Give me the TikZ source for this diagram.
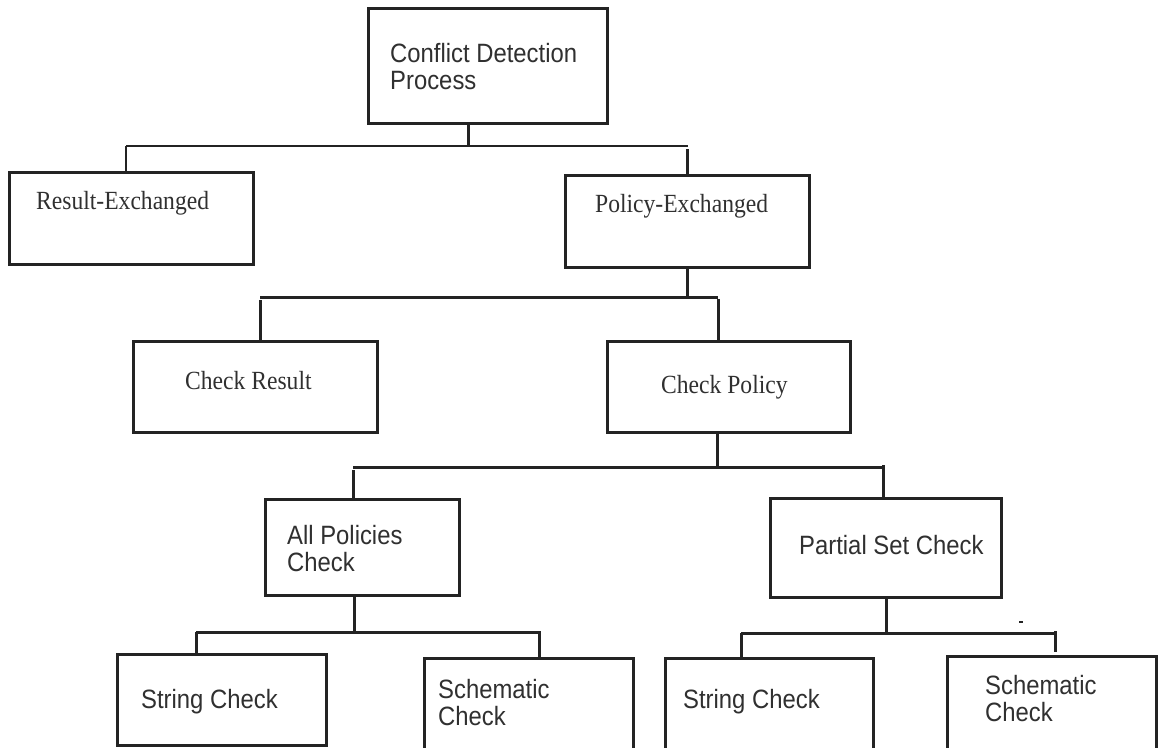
\documentclass[tikz,border=0pt]{standalone}
\usepackage{fontspec}
\newfontfamily\sansf[FakeStretch=0.9]{Liberation Sans}
\newfontfamily\serf[FakeStretch=0.9]{Liberation Serif}
\definecolor{ink}{HTML}{232323}
\definecolor{txt}{HTML}{303030}
\tikzset{
  box/.style={draw=ink, line width=3pt, rectangle, inner sep=0pt},
  sanslbl/.style={anchor=base west, inner sep=0pt, text=txt, font=\sansf\fontsize{26.5}{27}\selectfont},
  seriflbl/.style={anchor=base west, inner sep=0pt, text=txt, font=\serf\fontsize{26.2}{27}\selectfont},
  wire/.style={draw=ink, line width=3pt},
  thinwire/.style={draw=ink, line width=1.5pt}
}
\newcommand{\twolines}[2]{\begin{tabular}[t]{@{}l@{}}#1\\#2\end{tabular}}
\begin{document}
\begin{tikzpicture}[x=1pt,y=-1pt]
\fill[white] (0,0) rectangle (1158,747);
\useasboundingbox (0,0) rectangle (1158,747);

% boxes
\node[box, minimum width=239pt, minimum height=115pt] (top) at (487.5,65.5) {};
\node[box, minimum width=244pt, minimum height=92pt] (res) at (131,218) {};
\node[box, minimum width=244pt, minimum height=92pt] (pol) at (687,221) {};
\node[box, minimum width=244pt, minimum height=91pt] (chkres) at (255,386.5) {};
\node[box, minimum width=243pt, minimum height=91pt] (chkpol) at (728.5,386.5) {};
\node[box, minimum width=194pt, minimum height=96pt] (allpol) at (362,547) {};
\node[box, minimum width=231pt, minimum height=99pt] (partial) at (885.5,547.5) {};
\node[box, minimum width=209pt, minimum height=91pt] (str1) at (221.5,699.5) {};
\node[box, minimum width=209pt, minimum height=104pt] (sch1) at (528.5,710) {};
\node[box, minimum width=208pt, minimum height=104pt] (str2) at (769,710) {};
\node[box, minimum width=209pt, minimum height=106pt] (sch2) at (1051.5,709) {};

% texts
\node[sanslbl] (ttop) at (390,62) {\twolines{Conflict Detection}{Process}};
\node[seriflbl] (tres) at (36,209) {Result-Exchanged};
\node[seriflbl] (tpol) at (595,212) {Policy-Exchanged};
\node[seriflbl] (tchkres) at (185,389) {Check Result};
\node[seriflbl] (tchkpol) at (661,393) {Check Policy};
\node[sanslbl] (tallpol) at (287,544) {\twolines{All Policies}{Check}};
\node[sanslbl] (tpartial) at (799,554) {Partial Set Check};
\node[sanslbl] (tstr1) at (141,708) {String Check};
\node[sanslbl] (tsch1) at (438,698) {\twolines{Schematic}{Check}};
\node[sanslbl] (tstr2) at (683,708) {String Check};
\node[sanslbl] (tsch2) at (985,694) {\twolines{Schematic}{Check}};

% level 1
\coordinate (j1) at (468,146);
\coordinate (l1) at (126,146);
\coordinate (r1) at (688,146);
\coordinate (r1d) at (687,149);
\draw[wire] (top.south -| j1) -- (j1);
\draw[thinwire] (l1) -- (r1);
\draw[thinwire] (l1) -- (res.north -| l1);
\draw[wire] (r1d) -- (pol.north -| r1d);

% level 2
\coordinate (j2) at (687,297);
\coordinate (l2) at (260,297);
\coordinate (r2) at (718,297);
\draw[wire] (pol.south -| j2) -- (j2);
\draw[wire] (l2) -- (r2);
\draw[wire] ([yshift=-3pt]l2) -- (chkres.north -| l2);
\draw[wire] ([yshift=-2pt]r2) -- (chkpol.north -| r2);

% level 3
\coordinate (j3) at (717,467);
\coordinate (l3) at (353,467);
\coordinate (r3) at (883,467);
\draw[wire] (chkpol.south -| j3) -- (j3);
\draw[wire] (l3) -- (r3);
\draw[wire] ([yshift=-3pt]l3) -- (allpol.north -| l3);
\draw[wire] ([yshift=2pt]r3) -- (partial.north -| r3);

% level 4a
\coordinate (j4) at (354,632);
\coordinate (l4) at (196,632);
\coordinate (r4) at (541,632);
\coordinate (r4d) at (539,632);
\draw[wire] (allpol.south -| j4) -- (j4);
\draw[wire] (l4) -- (r4);
\draw[wire] (l4) -- (str1.north -| l4);
\draw[wire] (r4d) -- (sch1.north -| r4d);

% level 4b
\coordinate (j5) at (886,633);
\coordinate (l5) at (741,633);
\coordinate (r5) at (1057,633);
\coordinate (r5d) at (1055,631);
\coordinate (r5e) at (1055,652);
\draw[wire] (partial.south -| j5) -- (j5);
\draw[wire] (l5) -- (r5);
\draw[wire] (l5) -- (str2.north -| l5);
\draw[wire] (r5d) -- (r5e);

% stray mark
\draw[draw=ink, line width=2pt] (1019,622) -- (1022.5,622);
\end{tikzpicture}
\end{document}
